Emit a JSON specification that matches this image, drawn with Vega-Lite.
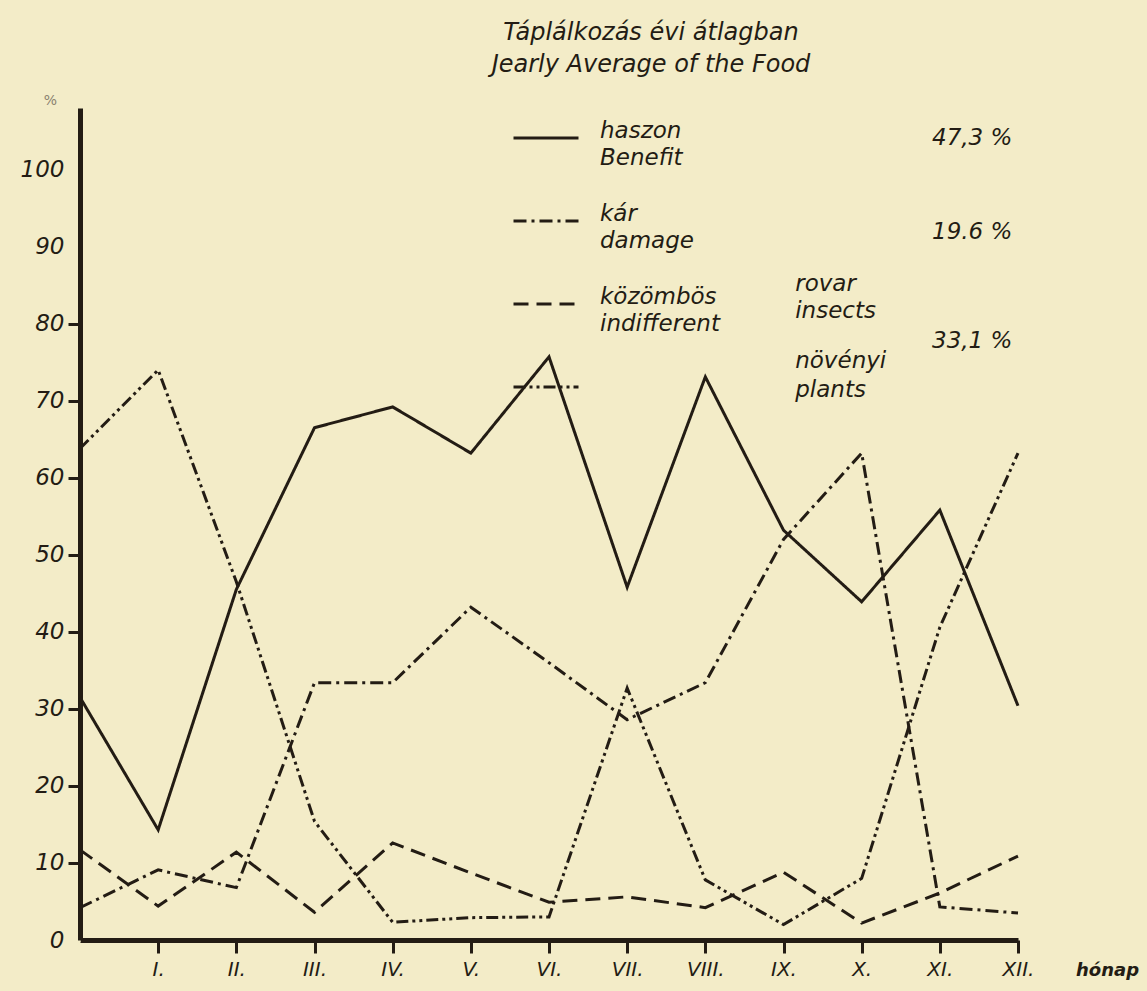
{
  "$schema": "https://vega.github.io/schema/vega-lite/v6.json",
  "width": 938,
  "height": 832,
  "autosize": {"type": "none"},
  "padding": {"left": 80, "top": 108, "right": 129, "bottom": 51},
  "background": "#f3ecc8",
  "title": {
    "text": ["Táplálkozás évi átlagban", "Jearly Average of the Food"],
    "font": "DejaVu Sans",
    "fontStyle": "italic",
    "fontWeight": "normal",
    "fontSize": 24,
    "lineHeight": 32,
    "color": "#231c14",
    "anchor": "middle",
    "dx": 102,
    "offset": 16
  },
  "config": {
    "view": {"stroke": null},
    "font": "DejaVu Sans",
    "style": {"guide-label": {"lineHeight": 27}}
  },
  "datasets": {
    "food": [
      {"month": 0, "series": "haszon", "percent": 31.5},
      {"month": 1, "series": "haszon", "percent": 14.3},
      {"month": 2, "series": "haszon", "percent": 45.5},
      {"month": 3, "series": "haszon", "percent": 66.5},
      {"month": 4, "series": "haszon", "percent": 69.2},
      {"month": 5, "series": "haszon", "percent": 63.2},
      {"month": 6, "series": "haszon", "percent": 75.7},
      {"month": 7, "series": "haszon", "percent": 45.8},
      {"month": 8, "series": "haszon", "percent": 73.1},
      {"month": 9, "series": "haszon", "percent": 53.2},
      {"month": 10, "series": "haszon", "percent": 43.9},
      {"month": 11, "series": "haszon", "percent": 55.8},
      {"month": 12, "series": "haszon", "percent": 30.4},
      {"month": 0, "series": "kár", "percent": 4.2},
      {"month": 1, "series": "kár", "percent": 9.1},
      {"month": 2, "series": "kár", "percent": 6.8},
      {"month": 3, "series": "kár", "percent": 33.4},
      {"month": 4, "series": "kár", "percent": 33.4},
      {"month": 5, "series": "kár", "percent": 43.2},
      {"month": 6, "series": "kár", "percent": 36.0},
      {"month": 7, "series": "kár", "percent": 28.6},
      {"month": 8, "series": "kár", "percent": 33.4},
      {"month": 9, "series": "kár", "percent": 52.0},
      {"month": 10, "series": "kár", "percent": 63.2},
      {"month": 11, "series": "kár", "percent": 4.3},
      {"month": 12, "series": "kár", "percent": 3.5},
      {"month": 0, "series": "közömbös", "percent": 11.7},
      {"month": 1, "series": "közömbös", "percent": 4.4},
      {"month": 2, "series": "közömbös", "percent": 11.4},
      {"month": 3, "series": "közömbös", "percent": 3.6},
      {"month": 4, "series": "közömbös", "percent": 12.6},
      {"month": 5, "series": "közömbös", "percent": 8.7},
      {"month": 6, "series": "közömbös", "percent": 4.9},
      {"month": 7, "series": "közömbös", "percent": 5.6},
      {"month": 8, "series": "közömbös", "percent": 4.2},
      {"month": 9, "series": "közömbös", "percent": 8.8},
      {"month": 10, "series": "közömbös", "percent": 2.2},
      {"month": 11, "series": "közömbös", "percent": 6.1},
      {"month": 12, "series": "közömbös", "percent": 10.9},
      {"month": 0, "series": "növényi", "percent": 63.8},
      {"month": 1, "series": "növényi", "percent": 74.0},
      {"month": 2, "series": "növényi", "percent": 46.5},
      {"month": 3, "series": "növényi", "percent": 15.4},
      {"month": 4, "series": "növényi", "percent": 2.3},
      {"month": 5, "series": "növényi", "percent": 2.9},
      {"month": 6, "series": "növényi", "percent": 3.0},
      {"month": 7, "series": "növényi", "percent": 32.7},
      {"month": 8, "series": "növényi", "percent": 7.8},
      {"month": 9, "series": "növényi", "percent": 2.0},
      {"month": 10, "series": "növényi", "percent": 8.0},
      {"month": 11, "series": "növényi", "percent": 40.6},
      {"month": 12, "series": "növényi", "percent": 63.2}
    ],
    "notes": [
      {"label": "rovar", "month": 9.15, "percent": 85.1},
      {"label": "insects", "month": 9.15, "percent": 81.6},
      {"label": "növényi", "month": 9.15, "percent": 75.1},
      {"label": "plants", "month": 9.15, "percent": 71.4},
      {"label": "47,3 %", "month": 10.9, "percent": 104.1},
      {"label": "19.6 %", "month": 10.9, "percent": 91.9},
      {"label": "33,1 %", "month": 10.9, "percent": 77.8}
    ]
  },
  "layer": [
    {
      "data": {"name": "food"},
      "mark": {"type": "line", "strokeWidth": 3, "color": "#231c14", "strokeCap": "butt", "strokeJoin": "miter"},
      "encoding": {
        "x": {
          "field": "month",
          "type": "quantitative",
          "scale": {"domain": [0, 12], "nice": false, "zero": false},
          "axis": {
            "title": "hónap",
            "titleX": 1027,
            "titleY": 30,
            "titleAlign": "center",
            "titleBaseline": "middle",
            "titleFont": "DejaVu Sans",
            "titleFontStyle": "italic",
            "titleFontWeight": "bold",
            "titleFontSize": 18,
            "titleColor": "#231c14",
            "values": [1, 2, 3, 4, 5, 6, 7, 8, 9, 10, 11, 12],
            "labelExpr": "['','I.','II.','III.','IV.','V.','VI.','VII.','VIII.','IX.','X.','XI.','XII.'][datum.value]",
            "grid": false,
            "domainWidth": 5,
            "domainColor": "#231c14",
            "ticks": true,
            "tickSize": 13,
            "tickWidth": 3,
            "tickColor": "#231c14",
            "tickOpacity": 1,
            "labelFont": "DejaVu Sans",
            "labelFontStyle": "italic",
            "labelFontSize": 20,
            "labelColor": "#231c14",
            "labelPadding": 6,
            "labelFlush": false,
            "labelOverlap": false
          }
        },
        "y": {
          "field": "percent",
          "type": "quantitative",
          "scale": {"domain": [0, 108], "nice": false},
          "axis": {
            "title": "%",
            "titleAngle": 0,
            "titleX": -30,
            "titleY": -8,
            "titleAlign": "center",
            "titleBaseline": "middle",
            "titleFont": "DejaVu Sans",
            "titleFontSize": 14,
            "titleFontWeight": "normal",
            "titleColor": "#8a8270",
            "values": [0, 10, 20, 30, 40, 50, 60, 70, 80, 90, 100],
            "grid": false,
            "domainWidth": 5,
            "domainColor": "#231c14",
            "ticks": true,
            "tickSize": 12,
            "tickWidth": 3,
            "tickColor": {"condition": {"test": "datum.value >= 10 && datum.value <= 80", "value": "#231c14"}, "value": "#f3ecc8"},
            "labelFont": "DejaVu Sans",
            "labelFontStyle": "italic",
            "labelFontSize": 23,
            "labelColor": "#231c14",
            "labelPadding": 4,
            "labelFlush": false,
            "labelOverlap": false
          }
        },
        "strokeDash": {
          "field": "series",
          "type": "nominal",
          "scale": {
            "domain": ["haszon", "kár", "közömbös", "növényi"],
            "range": [[1, 0], [13, 5, 3, 5], [15, 8], [12, 4, 3, 4, 3, 4]]
          },
          "legend": {
            "orient": "none",
            "legendX": 432,
            "legendY": -4,
            "title": null,
            "padding": 0,
            "symbolType": "stroke",
            "symbolSize": 4225,
            "symbolStrokeWidth": 3,
            "symbolStrokeColor": "#231c14",
            "labelFont": "DejaVu Sans",
            "labelFontStyle": "italic",
            "labelFontSize": 23,
            "labelColor": "#231c14",
            "labelOffset": 20,
            "labelLimit": 400,
            "labelBaseline": "alphabetic",
            "rowPadding": 17,
            "labelExpr": "datum.label == 'haszon' ? ['haszon', 'Benefit'] : datum.label == 'kár' ? ['kár', 'damage'] : datum.label == 'közömbös' ? ['közömbös', 'indifferent'] : ''"
          }
        }
      }
    },
    {
      "data": {"name": "notes"},
      "mark": {"type": "text", "font": "DejaVu Sans", "fontStyle": "italic", "fontSize": 23, "color": "#231c14", "align": "left", "baseline": "middle"},
      "encoding": {
        "x": {"field": "month", "type": "quantitative"},
        "y": {"field": "percent", "type": "quantitative"},
        "text": {"field": "label", "type": "nominal"}
      }
    }
  ]
}
